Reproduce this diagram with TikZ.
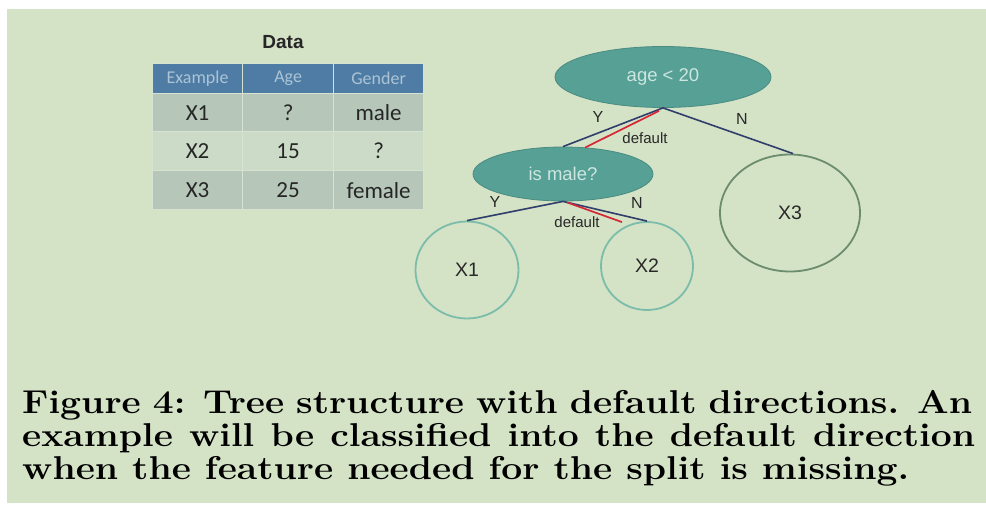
\documentclass[tikz,border=0pt]{standalone}
\usepackage{fontspec}
\usetikzlibrary{shapes.geometric,calc}
\newfontfamily\calibfont{Carlito}
\newfontfamily\arialfont{Liberation Sans}

\definecolor{bggreen}{RGB}{212,226,198}
\definecolor{headblue}{RGB}{78,124,164}
\definecolor{headtext}{RGB}{172,196,214}
\definecolor{rowdark}{RGB}{182,199,186}
\definecolor{rowlight}{RGB}{204,219,200}
\definecolor{cellrule}{RGB}{214,226,210}
\definecolor{splitfill}{RGB}{86,160,150}
\definecolor{splitedge}{RGB}{74,140,130}
\definecolor{splittext}{RGB}{205,230,224}
\definecolor{leafedge}{RGB}{124,188,170}
\definecolor{leafedgedark}{RGB}{108,140,110}
\definecolor{branch}{RGB}{48,62,108}
\definecolor{defred}{RGB}{212,40,52}
\definecolor{labelgray}{RGB}{40,40,40}

\tikzset{
  cell/.style={draw=cellrule, line width=1.2pt, inner sep=0pt, anchor=north west,
    font=\calibfont\fontsize{23}{23}\selectfont, text=black!85},
  headcell/.style={cell, fill=headblue, text=headtext, font=\calibfont\fontsize{18}{18}\selectfont},
  split/.style={ellipse, fill=splitfill, draw=splitedge, line width=0.8pt, inner sep=0pt,
    text=splittext, font=\arialfont\fontsize{18.5}{18.5}\selectfont},
  leaf/.style={ellipse, draw=leafedge, line width=1.8pt, inner sep=0pt,
    text=labelgray, font=\arialfont\fontsize{19.5}{19.5}\selectfont},
  branchline/.style={draw=branch, line width=1.6pt},
  defline/.style={draw=defred, line width=1.7pt},
  edgelabel/.style={text=labelgray, inner sep=0pt, font=\arialfont\fontsize{16}{16}\selectfont},
  deflabel/.style={text=labelgray, inner sep=0pt, font=\arialfont\fontsize{15}{15}\selectfont},
  caption/.style={anchor=base west, inner sep=0pt, font=\fontsize{33}{33}\bfseries\selectfont}
}

\begin{document}
\begin{tikzpicture}[x=1pt, y=-1pt]
  \useasboundingbox (0,0) rectangle (986,506);
  \fill[white] (0,0) rectangle (986,506);
  \fill[bggreen] (7,9) rectangle (986,503);

  % data table
  \node[font=\arialfont\bfseries\fontsize{19}{19}\selectfont, text=black!85] (title) at (283,42) {Data};

  \node[headcell, minimum width=90, minimum height=30] (h1) at (152,63) {Example};
  \node[headcell, minimum width=91, minimum height=30] (h2) at (242,63) {Age};
  \node[headcell, minimum width=90, minimum height=30] (h3) at (333,63) {Gender};

  \node[cell, fill=rowdark, minimum width=90, minimum height=38] (a1) at (152,93) {X1};
  \node[cell, fill=rowdark, minimum width=91, minimum height=38] (a2) at (242,93) {?};
  \node[cell, fill=rowdark, minimum width=90, minimum height=38] (a3) at (333,93) {male};

  \node[cell, fill=rowlight, minimum width=90, minimum height=39] (b1) at (152,131) {X2};
  \node[cell, fill=rowlight, minimum width=91, minimum height=39] (b2) at (242,131) {15};
  \node[cell, fill=rowlight, minimum width=90, minimum height=39] (b3) at (333,131) {?};

  \node[cell, fill=rowdark, minimum width=90, minimum height=39] (c1) at (152,170) {X3};
  \node[cell, fill=rowdark, minimum width=91, minimum height=39] (c2) at (242,170) {25};
  \node[cell, fill=rowdark, minimum width=90, minimum height=39] (c3) at (333,170) {female};

  % tree
  \node[split, minimum width=216, minimum height=61] (root) at (663,77) {age < 20};
  \node[split, minimum width=180, minimum height=54] (male) at (563,174) {is male?};
  \node[leaf, minimum width=103, minimum height=97] (x1) at (467,270) {X1};
  \node[leaf, minimum width=92, minimum height=88] (x2) at (647,266) {X2};
  \node[leaf, draw=leafedgedark, minimum width=140, minimum height=117] (x3) at (790,213) {X3};

  \draw[branchline] (root.south) -- (male.north);
  \draw[defline] ($(root.south)+(-4,3)$) -- ($(male.north)+(22,1)$);
  \draw[branchline] (root.south) -- ($(x3.north)+(3,0)$);
  \draw[branchline] (male.south) -- (x1.north);
  \draw[branchline] (male.south) -- (x2.north);
  \draw[defline] ($(male.south)+(4,1)$) -- ($(x2.north)+(-25,1)$);

  \node[edgelabel] (ly1) at (598,117) {Y};
  \node[edgelabel] (ln1) at (742,119) {N};
  \node[deflabel] (ld1) at (645,138) {default};
  \node[edgelabel] (ly2) at (495,202) {Y};
  \node[edgelabel] (ln2) at (637,203) {N};
  \node[deflabel] (ld2) at (577,222) {default};

  % caption, set in bold and widened a little
  \node[caption] (cap1) at (22,413) {\scalebox{1.13}[1]{\makebox[840.7pt][s]{Figure 4: Tree structure with default directions. An}}};
  \node[caption] (cap2) at (22,446) {\scalebox{1.13}[1]{\makebox[843.4pt][s]{example will be classified into the default direction}}};
  \node[caption] (cap3) at (22,479) {\scalebox{1.13}[1]{when the feature needed for the split is missing.}};
\end{tikzpicture}
\end{document}
